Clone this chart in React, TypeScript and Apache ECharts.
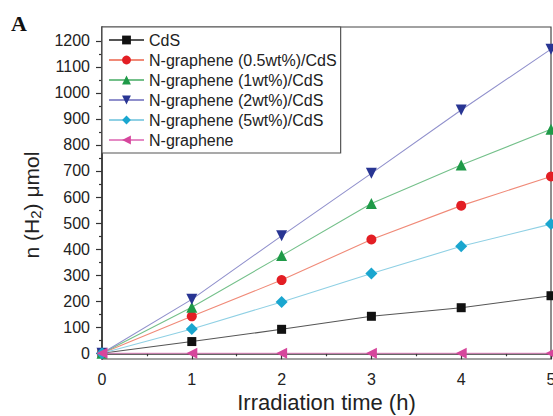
import React, { useEffect, useRef } from "react";
import * as echarts from "echarts";

const times = [0, 1, 2, 3, 4, 5];
const seriesNames = [
  "CdS",
  "N-graphene (0.5wt%)/CdS",
  "N-graphene (1wt%)/CdS",
  "N-graphene (2wt%)/CdS",
  "N-graphene (5wt%)/CdS",
  "N-graphene",
];
const cds = [0, 45, 92, 142, 175, 221];
const ng05 = [0, 142, 281, 437, 567, 679];
const ng1 = [0, 177, 375, 575, 723, 860];
const ng2 = [0, 207, 451, 691, 934, 1168];
const ng5 = [0, 93, 197, 306, 411, 496];
const ngOnly = [0, 0, 0, 0, 0, 0];
const yMajorTicks = [0, 100, 200, 300, 400, 500, 600, 700, 800, 900, 1000, 1100, 1200];
const yMinorTicks = [50, 150, 250, 350, 450, 550, 650, 750, 850, 950, 1050, 1150];

const FONT = "Liberation Sans, Arial, sans-serif";

export default function App() {
  const ref = useRef<HTMLDivElement>(null);
  useEffect(() => {
    if (!ref.current) return;
    const chart = echarts.init(ref.current, undefined, { renderer: "svg" });
    const values = [cds, ng05, ng1, ng2, ng5, ngOnly];
    const markerColors = ["#111111", "#e31e24", "#1f9a48", "#283593", "#1aa6cf", "#d6469c"];
    const lineColors = ["#555555", "#f08a78", "#74c08a", "#9090cc", "#8fd0e4", "#e58ac4"];
    const symbols = ["rect", "circle", "triangle", "triangle", "diamond", "triangle"];
    const rotates = [0, 0, 0, 180, 0, 90];
    const sizes = [9, 10, 11, 11, 12, 11];
    const series = values.map((v, i) => ({
      name: seriesNames[i],
      type: "line",
      data: v.map((y, j) => [times[j], y]),
      symbol: symbols[i],
      symbolRotate: rotates[i],
      symbolSize: sizes[i],
      showAllSymbol: true,
      clip: false,
      lineStyle: { color: lineColors[i], width: 1.1 },
      itemStyle: { color: markerColors[i] },
      emphasis: { disabled: true },
    }));
    chart.setOption({
      animation: false,
      backgroundColor: "#ffffff",
      textStyle: { fontFamily: FONT },
      grid: {
        left: 102,
        top: 27,
        right: 2,
        bottom: 57,
        outerBoundsMode: "none",
        containLabel: false,
        show: true,
        borderColor: "#444",
        borderWidth: 1.2,
        backgroundColor: "transparent",
      },
      legend: {
        orient: "vertical",
        left: 102,
        top: 27,
        itemWidth: 35,
        itemHeight: 11,
        itemGap: 4,
        padding: [5, 4, 5, 6],
        borderColor: "#555",
        borderWidth: 1.2,
        backgroundColor: "#ffffff",
        textStyle: { fontSize: 16, color: "#222", fontFamily: FONT },
        data: seriesNames,
      },
      xAxis: {
        type: "value",
        min: 0,
        max: 5,
        interval: 1,
        name: "Irradiation time (h)",
        nameLocation: "middle",
        nameGap: 32,
        nameTextStyle: { fontSize: 22, color: "#222", fontFamily: FONT },
        axisLine: { lineStyle: { color: "#333", width: 1.6 } },
        axisTick: { length: 6, lineStyle: { color: "#333", width: 1.2 } },
        minorTick: { show: true, splitNumber: 2, length: 3, lineStyle: { color: "#333", width: 1.2 } },
        axisLabel: { fontSize: 16, color: "#222", margin: 12, fontFamily: FONT },
        splitLine: { show: false },
      },
      yAxis: [
        {
          type: "value",
          min: -22,
          max: 1253,
          axisLine: { show: true, lineStyle: { color: "#333", width: 1.6 } },
          axisTick: { show: true, length: 6, customValues: yMajorTicks, lineStyle: { color: "#333", width: 1.2 } },
          axisLabel: {
            fontSize: 16,
            color: "#222",
            margin: 12,
            customValues: yMajorTicks,
            fontFamily: FONT,
            formatter: (v: number) => String(v),
          },
          splitLine: { show: false },
        },
        {
          type: "value",
          min: -22,
          max: 1253,
          position: "left",
          axisLine: { show: false },
          axisTick: { show: true, length: 3, customValues: yMinorTicks, lineStyle: { color: "#333", width: 1.2 } },
          axisLabel: { show: false },
          splitLine: { show: false },
        },
      ],
      graphic: [
        {
          type: "text",
          left: 11,
          top: 12,
          style: { text: "A", fontSize: 22, fontWeight: "bold", fontFamily: "Liberation Serif, Times New Roman, serif", fill: "#111" },
        },
        {
          type: "text",
          x: 31,
          y: 205,
          rotation: Math.PI / 2,
          style: {
            text: "{a|n (H}{s|2}{a|) μmol}",
            align: "center",
            verticalAlign: "middle",
            fill: "#222",
            rich: {
              a: { fontSize: 21, fontFamily: FONT, fill: "#222" },
              s: { fontSize: 15, fontFamily: FONT, fill: "#222", padding: [9, 0, 0, 0] },
            },
          },
        },
      ],
      series,
    });
    return () => chart.dispose();
  }, []);
  return (
    <div
      ref={ref}
      style={{ position: "fixed", left: 0, top: 0, width: 553, height: 416, background: "#fff" }}
    />
  );
}
